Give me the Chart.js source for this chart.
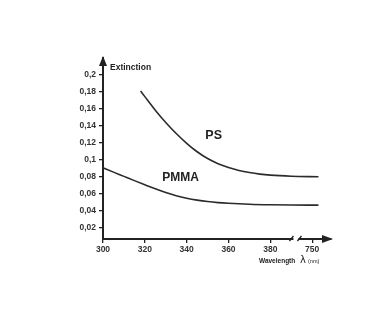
<!DOCTYPE html>
<html>
<head>
<meta charset="utf-8">
<script src="https://cdn.jsdelivr.net/npm/chart.js@4.4.1/dist/chart.umd.min.js"></script>
<style>
  html, body { margin: 0; padding: 0; background: #fff; }
  #wrap { width: 392px; height: 319px; }
</style>
</head>
<body>
<div id="wrap"><canvas id="grafico" width="392" height="319"></canvas></div>
<script>
// dados
const psLambda   = [318, 320, 325, 330, 335, 340, 345, 350, 355, 360, 365, 370, 375, 380, 390, 753];
const psValores  = [0.181, 0.1745, 0.1585, 0.144, 0.131, 0.1195, 0.1095, 0.1015, 0.0955, 0.091, 0.0875, 0.085, 0.0832, 0.082, 0.0807, 0.080];
const pmmaLambda  = [300, 305, 310, 315, 320, 325, 330, 335, 340, 345, 350, 355, 360, 370, 380, 390, 753];
const pmmaValores = [0.0906, 0.0855, 0.0805, 0.0755, 0.0706, 0.0658, 0.0614, 0.0576, 0.0547, 0.0525, 0.0508, 0.0496, 0.0488, 0.0477, 0.0471, 0.0468, 0.0466];
const xTicks      = [300, 320, 340, 360, 380, 750];
const yTicks      = [0.02, 0.04, 0.06, 0.08, 0.1, 0.12, 0.14, 0.16, 0.18, 0.2];
const yTickLabels = ['0,02', '0,04', '0,06', '0,08', '0,1', '0,12', '0,14', '0,16', '0,18', '0,2'];

// eixo com quebra: depois de 390 nm, 750 nm fica na posição 400
const posX = l => (l <= 400 ? l : 400 + (l - 750));

const corLinha = '#2b2b2b';
const corEixo = '#222';
const fonteTick = { family: 'Liberation Sans, Arial, sans-serif', size: 8.5, weight: 'bold' };

const extras = {
  id: 'extras',
  afterDraw(chart) {
    const { ctx, chartArea: a, scales: { x, y } } = chart;
    ctx.save();
    ctx.fillStyle = corEixo;
    // seta do eixo y
    ctx.beginPath();
    ctx.moveTo(a.left, a.top - 2);
    ctx.lineTo(a.left - 4, a.top + 8);
    ctx.lineTo(a.left + 4, a.top + 8);
    ctx.closePath();
    ctx.fill();
    // seta do eixo x
    ctx.beginPath();
    ctx.moveTo(a.right + 2, a.bottom);
    ctx.lineTo(a.right - 9, a.bottom - 4);
    ctx.lineTo(a.right - 9, a.bottom + 4);
    ctx.closePath();
    ctx.fill();
    // quebra do eixo
    const xb = x.getPixelForValue(392);
    ctx.fillStyle = '#fff';
    ctx.fillRect(xb - 2, a.bottom - 2, 5, 4);
    ctx.strokeStyle = corEixo;
    ctx.lineWidth = 1.3;
    [xb - 4, xb + 4].forEach(px => {
      ctx.beginPath();
      ctx.moveTo(px - 2, a.bottom + 2);
      ctx.lineTo(px + 2, a.bottom - 3);
      ctx.stroke();
    });
    // textos
    ctx.fillStyle = '#222';
    ctx.textBaseline = 'middle';
    ctx.textAlign = 'left';
    ctx.font = 'bold 8.5px Liberation Sans, Arial, sans-serif';
    ctx.fillText('Extinction', a.left + 7, 68);
    ctx.font = 'bold 6.5px Liberation Sans, Arial, sans-serif';
    ctx.fillText('Wavelength', 259, 261);
    ctx.font = '10px DejaVu Sans, sans-serif';
    ctx.fillText('λ', 300, 260);
    ctx.font = '5.5px Liberation Sans, Arial, sans-serif';
    ctx.fillText('(nm)', 308, 261);
    ctx.textAlign = 'center';
    ctx.font = 'bold 12.5px Liberation Sans, Arial, sans-serif';
    ctx.fillText('PS', x.getPixelForValue(352.9), y.getPixelForValue(0.129));
    ctx.font = 'bold 12px Liberation Sans, Arial, sans-serif';
    ctx.fillText('PMMA', x.getPixelForValue(337.1), y.getPixelForValue(0.0785));
    ctx.restore();
  }
};

const serie = (lambdas, valores) => lambdas.map((l, i) => ({ x: posX(l), y: valores[i] }));

new Chart(document.getElementById('grafico').getContext('2d'), {
  type: 'line',
  data: {
    datasets: [
      { label: 'PS', data: serie(psLambda, psValores) },
      { label: 'PMMA', data: serie(pmmaLambda, pmmaValores) }
    ].map(d => ({
      ...d,
      borderColor: corLinha,
      borderWidth: 1.6,
      pointRadius: 0,
      fill: false,
      cubicInterpolationMode: 'monotone'
    }))
  },
  options: {
    responsive: false,
    animation: false,
    layout: { padding: { left: 0, right: 61, top: 58, bottom: 0 } },
    plugins: { legend: { display: false }, tooltip: { enabled: false } },
    scales: {
      x: {
        type: 'linear',
        min: 300,
        max: 409,
        afterFit: s => { s.height = 80; },
        afterBuildTicks: s => { s.ticks = xTicks.map(v => ({ value: posX(v) })); },
        ticks: {
          color: '#333',
          font: fonteTick,
          padding: 2,
          maxRotation: 0,
          callback: v => String(v === 400 ? 750 : v)
        },
        grid: { display: true, drawOnChartArea: false, tickLength: 4, color: corEixo, lineWidth: 1.3 },
        border: { display: true, color: corEixo, width: 2 }
      },
      y: {
        type: 'linear',
        min: 0.0067,
        max: 0.22,
        afterFit: s => { s.width = 103; },
        afterBuildTicks: s => { s.ticks = yTicks.map(v => ({ value: v })); },
        ticks: {
          color: '#333',
          font: fonteTick,
          padding: 3,
          callback: v => yTickLabels[yTicks.indexOf(v)] ?? ''
        },
        grid: { display: true, drawOnChartArea: false, tickLength: 4, color: corEixo, lineWidth: 1.3 },
        border: { display: true, color: corEixo, width: 2 }
      }
    }
  },
  plugins: [extras]
});
</script>
</body>
</html>
